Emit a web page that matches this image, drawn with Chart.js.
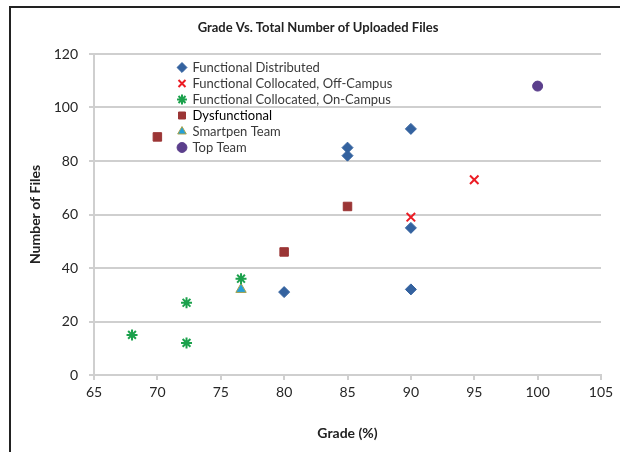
<!DOCTYPE html>
<html>
<head>
<meta charset="utf-8">
<script src="https://cdn.jsdelivr.net/npm/chart.js@4/dist/chart.umd.min.js"></script>
<style>
    html, body { margin: 0; padding: 0; background: #ffffff; }
    #wrap { position: relative; width: 620px; height: 452px; }
    #frame { position: absolute; left: 9px; top: 6px; right: 0; bottom: 0;
             border-left: 2px solid #222; border-top: 2px solid #222; pointer-events: none; }
</style>
</head>
<body>
<div id="wrap">
    <canvas id="gradeChart" width="620" height="452"></canvas>
    <div id="frame"></div>
</div>
<script>
// series values (grade %, number of files)
const seriesNames = [
    'Functional Distributed',
    'Functional Collocated, Off-Campus',
    'Functional Collocated, On-Campus',
    'Dysfunctional',
    'Smartpen Team',
    'Top Team'
];
const distributedGrade = [80, 85, 85, 90, 90, 90];
const distributedFiles = [31, 85, 82, 92, 55, 32];
const offCampusGrade = [90, 95];
const offCampusFiles = [59, 73];
const onCampusGrade = [68, 72.3, 72.3, 76.6];
const onCampusFiles = [15, 27, 12, 36];
const dysfunctionalGrade = [70, 80, 85];
const dysfunctionalFiles = [89, 46, 63];
const smartpenGrade = [76.6];
const smartpenFiles = [32];
const topTeamGrade = [100];
const topTeamFiles = [108];

const xTicks = [65, 70, 75, 80, 85, 90, 95, 100, 105];
const yTicks = [0, 20, 40, 60, 80, 100, 120];

function toPoints(xs, ys) {
    return xs.map(function(x, i) { return { x: x, y: ys[i] }; });
}

const FONT = "Lato, 'DejaVu Sans', sans-serif";
const GRID = '#cfcfcf';

// legend sits in the upper left of the plot, title centred on the frame
const boxPlacer = {
    id: 'boxPlacer',
    beforeDraw: function(chart) {
        const lg = chart.legend;
        const pad = lg.options.labels.padding;
        lg.left = 178 - pad;
        lg.top = 61 - pad;
        const tb = chart.titleBlock;
        tb.left = 36;
        tb.right = 600;
        tb.top = 2;
    }
};

function renderGradeChart() {
    const ctx = document.getElementById('gradeChart');

    new Chart(ctx, {
        type: 'scatter',
        data: {
            datasets: [
                {
                    label: seriesNames[0],
                    data: toPoints(distributedGrade, distributedFiles),
                    pointStyle: 'rectRot',
                    radius: 5.5,
                    backgroundColor: '#34629f',
                    borderColor: '#34629f',
                    borderWidth: 1
                },
                {
                    label: seriesNames[1],
                    data: toPoints(offCampusGrade, offCampusFiles),
                    pointStyle: 'crossRot',
                    radius: 6,
                    backgroundColor: '#ec1c24',
                    borderColor: '#ec1c24',
                    borderWidth: 2
                },
                {
                    label: seriesNames[2],
                    data: toPoints(onCampusGrade, onCampusFiles),
                    pointStyle: 'star',
                    radius: 5.5,
                    backgroundColor: '#1ba14c',
                    borderColor: '#1ba14c',
                    borderWidth: 2
                },
                {
                    label: seriesNames[3],
                    data: toPoints(dysfunctionalGrade, dysfunctionalFiles),
                    pointStyle: 'rect',
                    radius: 6,
                    backgroundColor: '#9b3535',
                    borderColor: '#9b3535',
                    borderWidth: 1
                },
                {
                    label: seriesNames[4],
                    data: toPoints(smartpenGrade, smartpenFiles),
                    pointStyle: 'triangle',
                    radius: 6,
                    backgroundColor: '#25a0d8',
                    borderColor: '#a6a24a',
                    borderWidth: 1
                },
                {
                    label: seriesNames[5],
                    data: toPoints(topTeamGrade, topTeamFiles),
                    pointStyle: 'circle',
                    radius: 5,
                    backgroundColor: '#5b3f8c',
                    borderColor: '#5b3f8c',
                    borderWidth: 1
                }
            ]
        },
        options: {
            responsive: false,
            animation: false,
            layout: {
                padding: { left: 0, right: 19, top: 0, bottom: 0 }
            },
            plugins: {
                title: {
                    display: true,
                    text: 'Grade Vs. Total Number of Uploaded Files',
                    color: '#222222',
                    font: { family: FONT, size: 13, weight: 'bold' },
                    padding: { top: 18, bottom: 20.4 }
                },
                legend: {
                    position: 'chartArea',
                    align: 'start',
                    labels: {
                        usePointStyle: true,
                        boxWidth: 8,
                        boxHeight: 7,
                        padding: 3,
                        color: '#3a3a3a',
                        font: { family: FONT, size: 13 },
                        generateLabels: function(chart) {
                            const items = Chart.defaults.plugins.legend.labels.generateLabels(chart);
                            items.forEach(function(item) {
                                if (item.text === 'Dysfunctional') item.fontColor = '#000000';
                            });
                            return items;
                        }
                    }
                },
                tooltip: { enabled: false }
            },
            scales: {
                x: {
                    type: 'linear',
                    min: 65,
                    max: 105,
                    afterBuildTicks: function(scale) {
                        scale.ticks = xTicks.map(function(v) { return { value: v }; });
                    },
                    afterFit: function(scale) { scale.height = 77; },
                    grid: {
                        drawOnChartArea: false,
                        drawTicks: true,
                        tickLength: 5,
                        color: GRID,
                        lineWidth: 2
                    },
                    border: { display: true, color: GRID, width: 2 },
                    ticks: {
                        padding: 4,
                        color: '#262626',
                        font: { family: FONT, size: 14 }
                    },
                    title: {
                        display: true,
                        text: 'Grade (%)',
                        color: '#222222',
                        font: { family: FONT, size: 14, weight: 'bold' },
                        padding: { top: 0, bottom: 10.6 }
                    }
                },
                y: {
                    type: 'linear',
                    min: 0,
                    max: 120,
                    afterBuildTicks: function(scale) {
                        scale.ticks = yTicks.map(function(v) { return { value: v }; });
                    },
                    afterFit: function(scale) { scale.width = 94; },
                    grid: {
                        drawTicks: true,
                        tickLength: 5,
                        color: GRID,
                        lineWidth: 2
                    },
                    border: { display: true, color: GRID, width: 2 },
                    ticks: {
                        padding: 11,
                        color: '#262626',
                        font: { family: FONT, size: 14 }
                    },
                    title: {
                        display: true,
                        text: 'Number of Files',
                        color: '#222222',
                        font: { family: FONT, size: 14, weight: 'bold' },
                        padding: { top: 27, bottom: 0 }
                    }
                }
            }
        },
        plugins: [boxPlacer]
    });
}

renderGradeChart();
</script>
</body>
</html>
